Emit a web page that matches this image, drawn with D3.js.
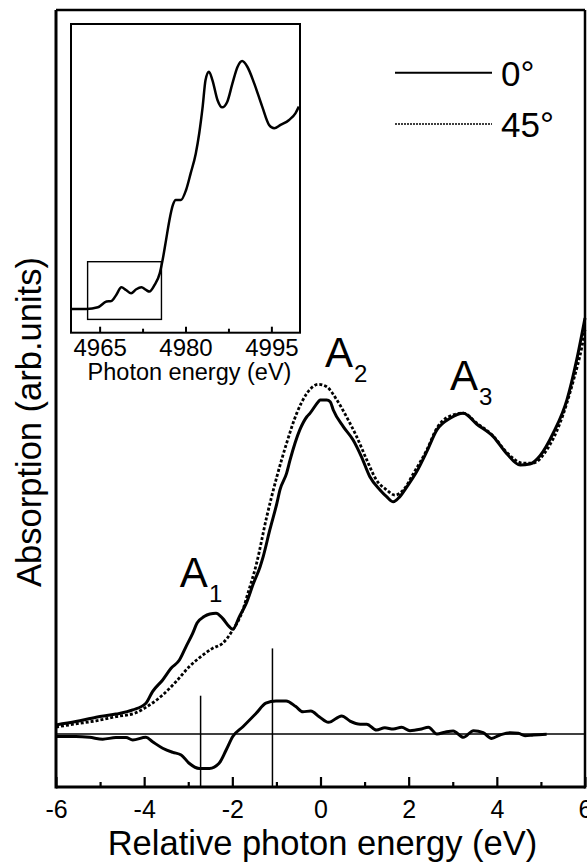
<!DOCTYPE html>
<html>
<head>
<meta charset="utf-8">
<script src="https://cdn.jsdelivr.net/npm/d3@7"></script>
<style>
  html, body { margin: 0; padding: 0; background: #fff; }
  svg { display: block; font-family: "Liberation Sans", Arial, Helvetica, sans-serif; }
</style>
</head>
<body>
<svg id="chart" width="587" height="862"></svg>
<script>
// ---------------- DATA ----------------
// Main spectra: relative photon energy (eV) vs absorption (arb. units)
const energy0 = [-6.00,-5.55,-5.09,-4.64,-4.26,-3.96,-3.81,-3.58,-3.39,-3.20,-3.05,-2.90,-2.80,-2.64,-2.51,-2.37,-2.22,-2.07,-1.99,-1.84,-1.69,-1.52,-1.37,-1.30,-1.15,-0.99,-0.92,-0.77,-0.69,-0.47,-0.31,-0.24,-0.05,-0.01,0.14,0.22,0.29,0.52,0.74,0.93,1.12,1.35,1.50,1.65,1.80,1.96,2.18,2.41,2.64,2.94,3.24,3.54,3.92,4.22,4.53,4.75,4.98,5.28,5.59,5.81,6.00];
const abs0 = [0.035,0.048,0.065,0.077,0.093,0.119,0.164,0.209,0.254,0.286,0.338,0.389,0.429,0.454,0.464,0.467,0.447,0.415,0.405,0.454,0.503,0.583,0.647,0.686,0.789,0.892,0.944,1.008,1.060,1.176,1.227,1.240,1.285,1.292,1.292,1.285,1.253,1.188,1.137,1.072,0.995,0.944,0.918,0.898,0.918,0.956,1.014,1.092,1.176,1.221,1.240,1.199,1.150,1.085,1.040,1.044,1.076,1.164,1.292,1.446,1.609];

const energy45 = [-6.00,-5.55,-5.09,-4.64,-4.19,-3.88,-3.58,-3.28,-2.98,-2.67,-2.45,-2.22,-1.99,-1.76,-1.67,-1.45,-1.22,-0.99,-0.77,-0.54,-0.31,-0.05,0.14,0.37,0.59,0.82,1.05,1.27,1.50,1.69,1.88,2.11,2.41,2.64,2.94,3.24,3.54,3.92,4.22,4.60,4.83,5.13,5.43,5.74,5.93,6.00];
const abs45 = [0.027,0.039,0.051,0.067,0.082,0.112,0.151,0.202,0.260,0.305,0.331,0.351,0.402,0.480,0.531,0.660,0.840,0.995,1.124,1.240,1.317,1.352,1.343,1.292,1.227,1.150,1.060,0.982,0.944,0.924,0.944,1.008,1.098,1.183,1.230,1.241,1.203,1.152,1.090,1.047,1.048,1.098,1.201,1.369,1.498,1.562];

// Difference spectrum (45° − 0°)
const energyDiff = [-6.00,-5.55,-5.24,-4.94,-4.64,-4.41,-4.26,-3.96,-3.81,-3.58,-3.35,-3.16,-2.98,-2.75,-2.52,-2.30,-2.14,-1.99,-1.76,-1.46,-1.24,-1.01,-0.78,-0.56,-0.40,-0.22,-0.03,0.18,0.48,0.67,0.90,1.05,1.27,1.46,1.65,1.84,2.03,2.26,2.45,2.64,2.82,3.01,3.24,3.47,3.69,3.88,4.07,4.30,4.49,4.64,4.83,5.13];
const diffVals = [-0.010,-0.010,-0.013,-0.020,-0.014,-0.014,-0.023,-0.013,-0.030,-0.055,-0.071,-0.081,-0.113,-0.133,-0.133,-0.113,-0.062,-0.010,0.028,0.080,0.119,0.128,0.128,0.106,0.086,0.089,0.067,0.045,0.070,0.050,0.038,0.038,0.015,0.024,0.019,0.026,0.013,0.018,0.026,0.000,0.007,0.012,-0.013,0.013,0.005,-0.017,-0.004,0.005,0.003,-0.007,-0.004,-0.001];

// Marker lines (energy, top value)
const markerEnergy = [-2.72, -1.09];
const markerTop = [0.148, 0.331];

// Inset: full XANES spectrum vs photon energy (eV)
const insetEnergy = [4960,4962.7,4964.7,4966.2,4967.0,4967.9,4968.8,4969.6,4970.5,4971.4,4972.3,4973.1,4973.7,4974.6,4975.5,4976.0,4976.6,4977.2,4977.8,4978.3,4979.2,4980.1,4980.9,4981.8,4982.4,4983.0,4983.5,4984.1,4984.7,4985.6,4986.4,4987.3,4988.2,4989.1,4989.9,4990.8,4992.0,4993.4,4994.6,4995.5,4996.6,4998.1,4999.2,4999.8];
const insetAbs = [0.10,0.10,0.107,0.131,0.133,0.159,0.191,0.18,0.166,0.183,0.191,0.18,0.173,0.201,0.25,0.306,0.39,0.475,0.538,0.559,0.559,0.601,0.671,0.755,0.84,0.952,1.064,1.099,1.064,0.979,0.949,0.973,1.05,1.12,1.144,1.12,1.05,0.952,0.875,0.861,0.875,0.896,0.924,0.952];
const insetBoxEnergy = [4962.9, 4975.8];
const insetBoxAbs = [0.056, 0.299];

// Ticks
const xTickValues = [-6, -4, -2, 0, 2, 4, 6];
const xMinorTicks = [-5, -3, -1, 1, 3, 5];
const insetTickValues = [4965, 4980, 4995];
const insetMinorTicks = [4972.5, 4987.5];

// Peak labels
const peakNames = ["A", "A", "A"];
const peakSubs = ["1", "2", "3"];
const peakEnergy = [-3.19, 0.10, 2.94];
const peakAbs = [0.568, 1.420, 1.330];

const legendLabels = ["0°", "45°"];

// ---------------- DRAW ----------------
const svg = d3.select("#chart");
const pL = 56, pR = 585, pT = 10, pB = 787;

const x = d3.scaleLinear().domain([-6, 6]).range([pL, pR]);
const y = d3.scaleLinear().domain([-0.205, 2.8]).range([pB, pT]);

const pts = (xs, ys) => xs.map((v, i) => [v, ys[i]]);

const line = d3.line().x(d => x(d[0])).y(d => y(d[1])).curve(d3.curveMonotoneX);

// zero baseline of the difference spectrum
svg.append("line")
  .attr("x1", x(-6)).attr("x2", x(6))
  .attr("y1", y(0)).attr("y2", y(0))
  .attr("stroke", "#000").attr("stroke-width", 1.5);

// marker lines
markerEnergy.forEach((e, i) => {
  svg.append("line")
    .attr("x1", x(e)).attr("x2", x(e))
    .attr("y1", y(markerTop[i])).attr("y2", y(-0.205))
    .attr("stroke", "#000").attr("stroke-width", 1.5);
});

// spectra
svg.append("path").datum(pts(energy45, abs45))
  .attr("d", line).attr("fill", "none").attr("stroke", "#000")
  .attr("stroke-width", 2.8).attr("stroke-dasharray", "3,2");

svg.append("path").datum(pts(energy0, abs0))
  .attr("d", line).attr("fill", "none").attr("stroke", "#000")
  .attr("stroke-width", 3).attr("stroke-linejoin", "round");

svg.append("path").datum(pts(energyDiff, diffVals))
  .attr("d", line).attr("fill", "none").attr("stroke", "#000")
  .attr("stroke-width", 3).attr("stroke-linejoin", "round");

// x axis (ticks inward)
const xAxis = d3.axisBottom(x).tickValues(xTickValues).tickSizeInner(-10).tickSizeOuter(0).tickPadding(13)
  .tickFormat(d => d);
const gx = svg.append("g").attr("transform", `translate(0,${pB})`).call(xAxis);
gx.select(".domain").remove();
gx.selectAll(".tick line").attr("stroke-width", 2.2);
gx.selectAll(".tick text").attr("font-size", 25).attr("fill", "#000")
  .attr("font-family", "Liberation Sans, Arial, sans-serif");
const gxm = svg.append("g").attr("transform", `translate(0,${pB})`)
  .call(d3.axisBottom(x).tickValues(xMinorTicks).tickSizeInner(-5).tickSizeOuter(0).tickFormat(""));
gxm.select(".domain").remove();
gxm.selectAll(".tick line").attr("stroke-width", 2.2);

// frame
svg.append("line").attr("x1", pL).attr("x2", pL).attr("y1", pT).attr("y2", pB + 1.5)
  .attr("stroke", "#000").attr("stroke-width", 3);
svg.append("line").attr("x1", pL).attr("x2", pR).attr("y1", pB).attr("y2", pB)
  .attr("stroke", "#000").attr("stroke-width", 3);
svg.append("line").attr("x1", pL).attr("x2", pR).attr("y1", pT).attr("y2", pT)
  .attr("stroke", "#000").attr("stroke-width", 2.5);
svg.append("line").attr("x1", pR).attr("x2", pR).attr("y1", pT).attr("y2", pB + 1.5)
  .attr("stroke", "#000").attr("stroke-width", 2.5);

// axis titles
svg.append("text").attr("x", (pL + pR) / 2 + 2).attr("y", 855)
  .attr("text-anchor", "middle").attr("font-size", 34.5).text("Relative photon energy (eV)");
svg.append("text").attr("transform", "translate(41,422) rotate(-90)")
  .attr("text-anchor", "middle").attr("font-size", 34.5).text("Absorption (arb.units)");

// peak labels
peakNames.forEach((n, i) => {
  const t = svg.append("text").attr("x", x(peakEnergy[i])).attr("y", y(peakAbs[i]))
    .attr("font-size", 42);
  t.append("tspan").text(n);
  t.append("tspan").attr("font-size", 24).attr("dx", 1).attr("dy", 15).text(peakSubs[i]);
});

// legend
const legY = [72.7, 124];
legendLabels.forEach((lab, i) => {
  svg.append("line").attr("x1", 395).attr("x2", 492).attr("y1", legY[i]).attr("y2", legY[i])
    .attr("stroke", "#000").attr("stroke-width", i === 0 ? 2 : 1.6)
    .attr("stroke-dasharray", i === 0 ? null : "2,1");
  svg.append("text").attr("x", 501).attr("y", legY[i] + 13).attr("font-size", 35).text(lab);
});

// ---------------- INSET ----------------
const iL = 71, iR = 300, iT = 24, iB = 332.7;
const xi = d3.scaleLinear().domain([4960, 5000]).range([iL, iR]);
const yi = d3.scaleLinear().domain([0, 1.3]).range([iB, iT]);

svg.append("rect").attr("x", iL).attr("y", iT).attr("width", iR - iL).attr("height", iB - iT)
  .attr("fill", "#fff").attr("stroke", "#000").attr("stroke-width", 2);

const lineI = d3.line().x(d => xi(d[0])).y(d => yi(d[1])).curve(d3.curveMonotoneX);
svg.append("path").datum(pts(insetEnergy, insetAbs))
  .attr("d", lineI).attr("fill", "none").attr("stroke", "#000").attr("stroke-width", 2.5);

svg.append("rect")
  .attr("x", xi(insetBoxEnergy[0])).attr("y", yi(insetBoxAbs[1]))
  .attr("width", xi(insetBoxEnergy[1]) - xi(insetBoxEnergy[0]))
  .attr("height", yi(insetBoxAbs[0]) - yi(insetBoxAbs[1]))
  .attr("fill", "none").attr("stroke", "#000").attr("stroke-width", 1.4);

const gi = svg.append("g").attr("transform", `translate(0,${iB})`)
  .call(d3.axisBottom(xi).tickValues(insetTickValues).tickSizeInner(-6).tickSizeOuter(0).tickPadding(6).tickFormat(d => d));
gi.select(".domain").remove();
gi.selectAll(".tick line").attr("stroke-width", 2);
gi.selectAll(".tick text").attr("font-size", 24).attr("fill", "#000")
  .attr("font-family", "Liberation Sans, Arial, sans-serif");
const gim = svg.append("g").attr("transform", `translate(0,${iB})`)
  .call(d3.axisBottom(xi).tickValues(insetMinorTicks).tickSizeInner(-4).tickSizeOuter(0).tickFormat(""));
gim.select(".domain").remove();
gim.selectAll(".tick line").attr("stroke-width", 2);

svg.append("text").attr("x", (iL + iR) / 2 + 4).attr("y", 380)
  .attr("text-anchor", "middle").attr("font-size", 23.5).text("Photon energy (eV)");
</script>
</body>
</html>
